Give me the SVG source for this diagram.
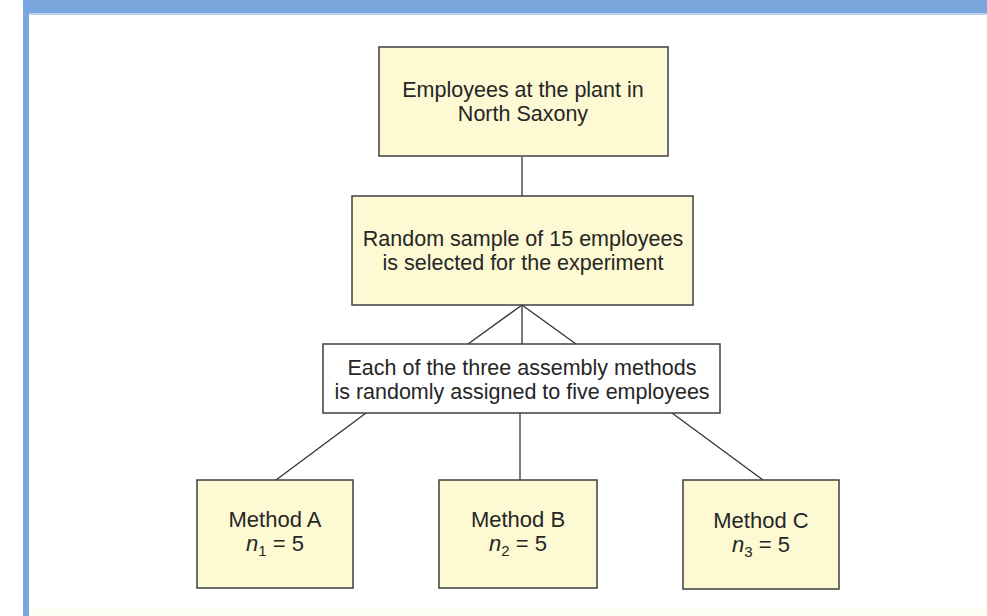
<svg xmlns="http://www.w3.org/2000/svg" width="987" height="616" viewBox="0 0 987 616">
<style>
.box{fill:#fcf9d3;stroke:#3f3f3f;stroke-width:1.5}
.wbox{fill:#ffffff;stroke:#3f3f3f;stroke-width:1.5}
.t{font-family:"Liberation Sans",Arial,sans-serif;font-size:21.5px;fill:#262626;text-anchor:middle}
.m{font-size:22px}
.conn line{stroke:#333;stroke-width:1.3}
</style>
<rect x="0" y="0" width="987" height="616" fill="#ffffff"/>
<rect x="23" y="0" width="964" height="13" fill="#7aa6dd"/>
<rect x="23" y="13" width="964" height="2" fill="#b9d1ef"/>
<rect x="23" y="0" width="6" height="616" fill="#7aa6dd"/>
<rect x="29" y="608" width="958" height="8" fill="#fdfcf4"/>
<g class="conn" id="connectors">
<line x1="522" y1="157" x2="522" y2="196"/>
<line x1="522" y1="305" x2="468" y2="344"/>
<line x1="522" y1="305" x2="522" y2="344"/>
<line x1="522" y1="305" x2="576" y2="344"/>
<line x1="366" y1="413" x2="276" y2="480"/>
<line x1="520" y1="413" x2="520" y2="480"/>
<line x1="672" y1="413" x2="763" y2="480"/>
</g>
<g id="node-employees">
<rect class="box" x="379" y="47" width="289" height="109"/>
<text class="t" x="523" y="97">Employees at the plant in</text>
<text class="t" x="523" y="121">North Saxony</text>
</g>
<g id="node-sample">
<rect class="box" x="352" y="196" width="341" height="109"/>
<text class="t" x="523" y="246">Random sample of 15 employees</text>
<text class="t" x="523" y="270">is selected for the experiment</text>
</g>
<g id="node-assign">
<rect class="wbox" x="323" y="344" width="397" height="69"/>
<text class="t" x="522" y="375">Each of the three assembly methods</text>
<text class="t" x="522" y="399">is randomly assigned to five employees</text>
</g>
<g id="node-a">
<rect class="box" x="197" y="480" width="156" height="108"/>
<text class="t m" x="275" y="527">Method A</text>
<text class="t m" x="275" y="551"><tspan font-style="italic">n</tspan><tspan font-size="15" dy="5">1</tspan><tspan dy="-5"> = 5</tspan></text>
</g>
<g id="node-b">
<rect class="box" x="439" y="480" width="158" height="108"/>
<text class="t m" x="518" y="527">Method B</text>
<text class="t m" x="518" y="551"><tspan font-style="italic">n</tspan><tspan font-size="15" dy="5">2</tspan><tspan dy="-5"> = 5</tspan></text>
</g>
<g id="node-c">
<rect class="box" x="683" y="480" width="156" height="109"/>
<text class="t m" x="761" y="528">Method C</text>
<text class="t m" x="761" y="552"><tspan font-style="italic">n</tspan><tspan font-size="15" dy="5">3</tspan><tspan dy="-5"> = 5</tspan></text>
</g>
</svg>
